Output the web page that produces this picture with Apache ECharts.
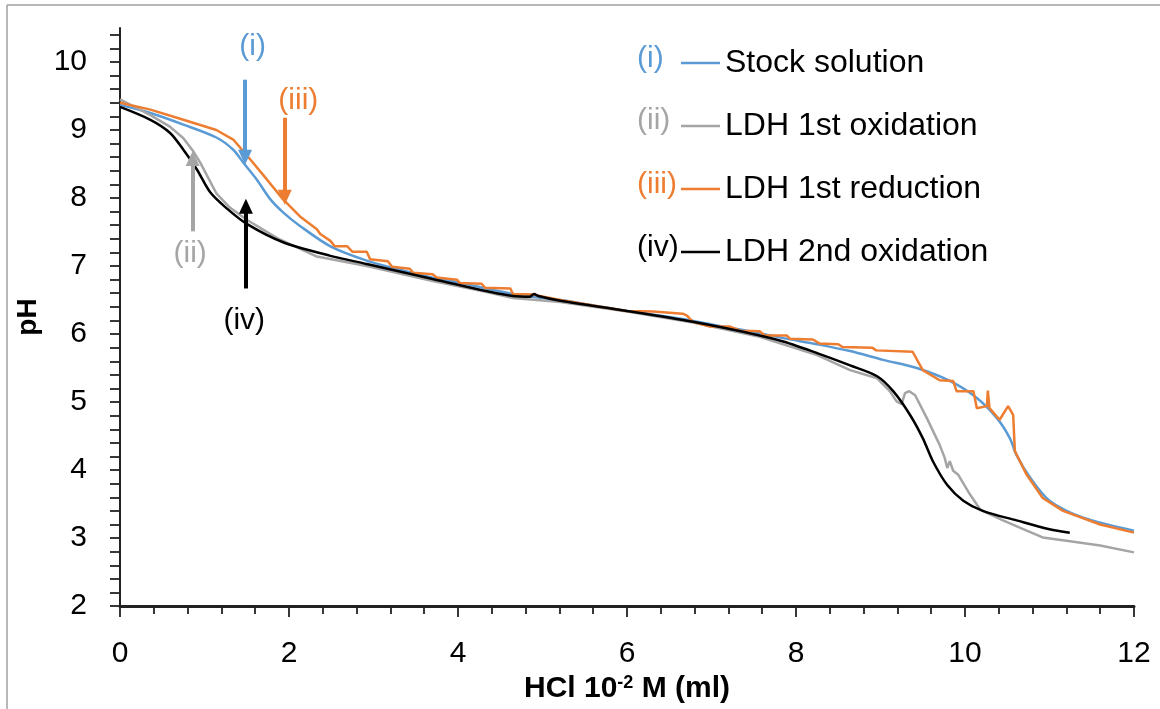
<!DOCTYPE html>
<html>
<head>
<meta charset="utf-8">
<script src="https://cdn.jsdelivr.net/npm/echarts@6/dist/echarts.min.js"></script>
<style>
  html, body { margin: 0; padding: 0; background: #fff; }
  #main { width: 1160px; height: 709px; }
</style>
</head>
<body>
<div id="main"></div>
<script>
// 曲线数据 [HCl ml, pH]
const stockData = [
  [0, 9.37], [0.36, 9.25], [0.75, 9.08], [1.14, 8.89], [1.34, 8.71], [1.46, 8.52],
  [1.62, 8.27], [1.78, 7.98], [1.93, 7.79], [2.13, 7.59], [2.49, 7.29], [2.92, 7.08],
  [3.3, 6.95], [3.7, 6.83], [4.0, 6.76], [4.65, 6.59], [5.21, 6.50], [5.6, 6.42],
  [6.0, 6.34], [6.66, 6.22], [7.0, 6.14], [7.46, 6.04], [7.85, 5.94], [8.25, 5.85],
  [8.64, 5.75], [9.03, 5.62], [9.43, 5.50], [9.82, 5.31], [10.14, 5.06], [10.38, 4.76],
  [10.53, 4.47], [10.61, 4.22], [10.77, 3.89], [11.0, 3.55], [11.4, 3.30], [12.0, 3.11]
];
const oxid1Data = [
  [0, 9.45], [0.36, 9.22], [0.59, 9.05], [0.75, 8.88], [0.86, 8.70], [0.95, 8.52],
  [1.03, 8.33], [1.14, 8.07], [1.30, 7.86], [1.50, 7.68], [1.86, 7.41], [2.33, 7.14],
  [2.92, 7.00], [3.7, 6.78], [4.3, 6.63], [4.65, 6.53], [5.21, 6.47], [6.0, 6.33],
  [6.78, 6.17], [7.57, 5.96], [8.25, 5.69], [8.64, 5.47], [8.96, 5.35], [9.11, 5.16],
  [9.19, 5.01], [9.25, 4.97], [9.29, 5.13], [9.34, 5.16], [9.41, 5.10], [9.55, 4.76],
  [9.70, 4.37], [9.76, 4.18], [9.79, 4.03], [9.82, 4.13], [9.86, 3.99], [9.92, 3.93],
  [10.06, 3.64], [10.18, 3.42], [10.45, 3.26], [10.73, 3.11], [10.92, 3.01], [11.2, 2.96],
  [11.6, 2.89], [12.0, 2.79]
];
const reductData = [
  [0, 9.40], [0.36, 9.30], [0.75, 9.15], [1.14, 9.00], [1.34, 8.86], [1.54, 8.57],
  [1.74, 8.27], [1.93, 7.98], [2.13, 7.73], [2.33, 7.54], [2.37, 7.47], [2.49, 7.37],
  [2.54, 7.29], [2.69, 7.29],
  [2.75, 7.21], [2.92, 7.21], [2.96, 7.10], [3.17, 7.07], [3.22, 6.99], [3.43, 6.96],
  [3.47, 6.90], [3.70, 6.88], [3.75, 6.83], [3.99, 6.80], [4.02, 6.75], [4.28, 6.74],
  [4.32, 6.68], [4.62, 6.67], [4.65, 6.59], [4.89, 6.58], [5.21, 6.50], [5.6, 6.42],
  [6.0, 6.34], [6.31, 6.33], [6.66, 6.30], [6.71, 6.27], [6.78, 6.18], [6.98, 6.11],
  [7.22, 6.11], [7.34, 6.05], [7.57, 6.04], [7.63, 5.98], [7.89, 5.98], [7.93, 5.93],
  [8.2, 5.92], [8.28, 5.86], [8.5, 5.85], [8.55, 5.81], [8.9, 5.80], [8.95, 5.76],
  [9.38, 5.74], [9.5, 5.47], [9.70, 5.32], [9.86, 5.31], [9.90, 5.16], [10.1, 5.16],
  [10.14, 4.91], [10.26, 4.94], [10.27, 5.17], [10.29, 4.91], [10.41, 4.74], [10.51, 4.94],
  [10.57, 4.81], [10.59, 4.28], [10.73, 3.93], [10.92, 3.59], [11.16, 3.40], [11.6, 3.20],
  [12.0, 3.08]
];
const oxid2Data = [
  [0, 9.34], [0.36, 9.15], [0.59, 8.96], [0.75, 8.71], [0.91, 8.42], [1.07, 8.08],
  [1.27, 7.84], [1.50, 7.62], [1.93, 7.35], [2.49, 7.15], [2.92, 7.03], [3.7, 6.81],
  [4.65, 6.56],
  [4.85, 6.55], [4.9, 6.59], [4.95, 6.56], [5.21, 6.49], [6.0, 6.34], [6.78, 6.18],
  [7.57, 5.98], [7.85, 5.89], [8.25, 5.72], [8.64, 5.54], [8.96, 5.38], [9.15, 5.16],
  [9.35, 4.81], [9.50, 4.47], [9.62, 4.13], [9.79, 3.78], [9.98, 3.55], [10.21, 3.40],
  [10.61, 3.26], [11.0, 3.13], [11.24, 3.08]
];

const seriesNames = ['Stock solution', 'LDH 1st oxidation', 'LDH 1st reduction', 'LDH 2nd oxidation'];
const seriesTags = ['(i)', '(ii)', '(iii)', '(iv)'];
const seriesColors = ['#5B9BD5', '#A5A5A5', '#ED7D31', '#000000'];

// 箭头 [x, 起点pH, 终点pH] 与标注位置 [x, pH]
const arrowLines = [[1.48, 9.74, 8.60], [0.86, 7.51, 8.58], [1.95, 9.18, 8.01], [1.49, 6.67, 7.88]];
const tagPositions = [[1.57, 10.22], [0.83, 7.18], [2.11, 9.43], [1.47, 6.20]];

const yTicks = [];
for (let v = 20; v <= 104; v += 2) yTicks.push(v / 10);
const yLabels = [2, 3, 4, 5, 6, 7, 8, 9, 10];

const FONT = 'Liberation Sans';
const chart = echarts.init(document.getElementById('main'), null, { renderer: 'canvas' });

function makeSeries(i, data, smooth) {
  const a = arrowLines[i];
  const t = tagPositions[i];
  return {
    name: seriesNames[i],
    type: 'line',
    data: data,
    smooth: smooth,
    showSymbol: false,
    symbol: 'none',
    lineStyle: { color: seriesColors[i], width: 2.5 },
    itemStyle: { color: seriesColors[i] },
    markLine: {
      silent: true,
      symbol: ['none', 'triangle'],
      symbolSize: [14, 15],
      label: { show: false },
      lineStyle: { color: seriesColors[i], width: 4, type: 'solid' },
      data: [[{ coord: [a[0], a[1]] }, { coord: [a[0], a[2]] }]]
    },
    markPoint: {
      silent: true,
      symbol: 'rect',
      symbolSize: 1,
      itemStyle: { color: 'rgba(0,0,0,0)' },
      label: {
        show: true,
        position: 'inside',
        formatter: seriesTags[i],
        color: seriesColors[i],
        fontFamily: FONT,
        fontSize: 30,
        textBorderWidth: 0
      },
      data: [{ coord: t }]
    }
  };
}

const option = {
  animation: false,
  backgroundColor: '#fff',
  textStyle: { fontFamily: FONT },
  grid: { left: 120, right: 26, top: 28, bottom: 100, containLabel: false },
  legend: {
    orient: 'vertical',
    left: 676,
    top: 42,
    itemGap: 31,
    icon: 'rect',
    itemWidth: 39,
    itemHeight: 2.5,
    data: seriesNames,
    textStyle: { fontFamily: FONT, fontSize: 32, color: '#000' }
  },
  graphic: [
    { type: 'line', shape: { x1: 7, y1: 5, x2: 7, y2: 709 }, style: { stroke: '#a0a0a0', lineWidth: 1.5 } },
    { type: 'line', shape: { x1: 7, y1: 5, x2: 1160, y2: 5 }, style: { stroke: '#a0a0a0', lineWidth: 1.5 } },
    { type: 'text', left: 637, top: 44, style: { text: seriesTags[0], fill: seriesColors[0], font: '30px "Liberation Sans"' } },
    { type: 'text', left: 637, top: 106, style: { text: seriesTags[1], fill: seriesColors[1], font: '30px "Liberation Sans"' } },
    { type: 'text', left: 637, top: 170, style: { text: seriesTags[2], fill: seriesColors[2], font: '30px "Liberation Sans"' } },
    { type: 'text', left: 637, top: 233, style: { text: seriesTags[3], fill: seriesColors[3], font: '30px "Liberation Sans"' } }
  ],
  xAxis: {
    type: 'value',
    min: 0,
    max: 12,
    interval: 2,
    name: 'HCl 10{sup|-2} M (ml)',
    nameLocation: 'middle',
    nameGap: 60,
    nameTextStyle: {
      fontFamily: FONT,
      fontSize: 30,
      fontWeight: 'bold',
      color: '#000',
      rich: {
        sup: { fontFamily: FONT, fontSize: 18, fontWeight: 'bold', color: '#000', verticalAlign: 'top', padding: [0, 0, 12, 0] }
      }
    },
    axisLine: { show: true, lineStyle: { color: '#222', width: 3 } },
    axisTick: { show: true, length: 11, lineStyle: { color: '#222', width: 1.8 } },
    minorTick: { show: true, splitNumber: 5, length: 8, lineStyle: { color: '#222', width: 1.8 } },
    splitLine: { show: false },
    minorSplitLine: { show: false },
    axisLabel: { fontFamily: FONT, fontSize: 30, color: '#000', margin: 33 }
  },
  yAxis: {
    type: 'value',
    min: 2,
    max: 10.5,
    name: 'pH',
    nameLocation: 'middle',
    nameGap: 70,
    nameTextStyle: { fontFamily: FONT, fontSize: 28, fontWeight: 'bold', color: '#000' },
    axisLine: { show: true, onZero: false, lineStyle: { color: '#222', width: 2 } },
    axisTick: { show: true, length: 10, customValues: yTicks, lineStyle: { color: '#222', width: 1.8 } },
    splitLine: { show: false },
    axisLabel: { fontFamily: FONT, fontSize: 30, color: '#000', margin: 33, customValues: yLabels }
  },
  series: [
    makeSeries(0, stockData, 0.3),
    makeSeries(1, oxid1Data, false),
    makeSeries(2, reductData, false),
    makeSeries(3, oxid2Data, 0.3)
  ]
};

chart.setOption(option);
</script>
</body>
</html>
